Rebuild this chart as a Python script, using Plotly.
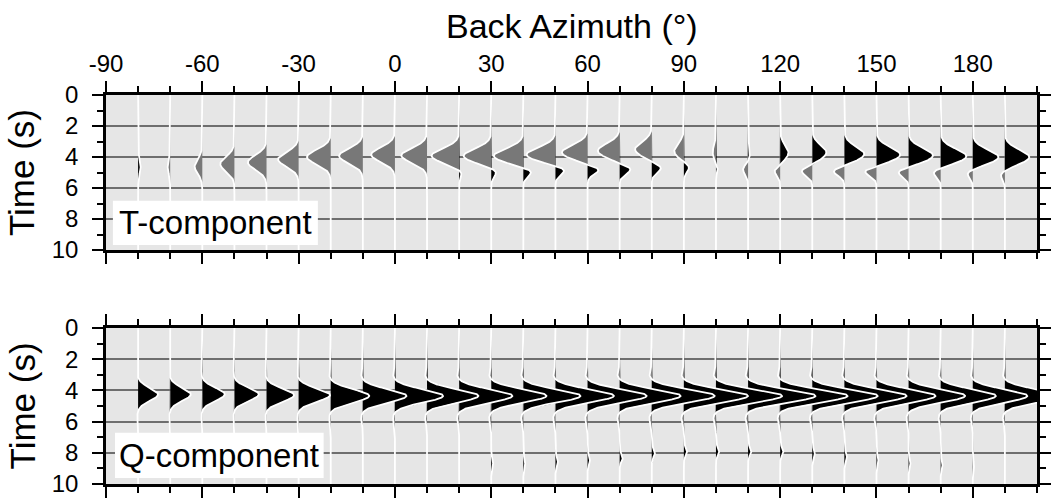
import numpy as np
import plotly.graph_objects as go

# ---------------- data ----------------
baz = [-80, -70, -60, -50, -40, -30, -20, -10, 0, 10, 20, 30, 40, 50,
       60, 70, 80, 90, 100, 110, 120, 130, 140, 150, 160, 170, 180, 190]

# T-component: main arrival (amplitude, time) and later arrival (amplitude, time)
t_amp1 = [0.04, -0.04, -0.12, -0.22, -0.29, -0.32, -0.37, -0.37, -0.37, -0.40,
          -0.43, -0.43, -0.46, -0.45, -0.40, -0.34, -0.26, -0.15, -0.05, 0.03,
          0.13, 0.22, 0.31, 0.37, 0.38, 0.40, 0.40, 0.38]
t_time1 = [4.6, 4.6, 4.6, 4.45, 4.35, 4.15, 4.0, 3.93, 3.85, 3.9,
           3.92, 3.93, 3.93, 3.85, 3.7, 3.6, 3.5, 3.6, 3.7, 3.7,
           3.7, 3.7, 3.8, 3.85, 3.9, 3.95, 4.0, 4.0]
t_amp2 = [0.0, 0.0, 0.0, 0.0, 0.0, 0.0, 0.0, 0.0, 0.0, 0.0,
          0.06, 0.11, 0.16, 0.18, 0.19, 0.18, 0.15, 0.09, 0.03, -0.08,
          -0.09, -0.17, -0.18, -0.20, -0.18, -0.14, -0.11, -0.08]
t_time2 = [5.0, 5.0, 5.0, 5.0, 5.0, 5.0, 5.0, 5.0, 5.0, 5.0,
           4.95, 4.9, 4.9, 4.8, 4.8, 4.78, 4.7, 4.65, 4.7, 4.8,
           4.88, 4.9, 4.9, 4.9, 4.95, 4.95, 5.0, 5.1]

# Q-component: main arrival and small late arrival
q_amp1 = [0.31, 0.32, 0.35, 0.38, 0.43, 0.49, 0.60, 0.68, 0.75, 0.80,
          0.83, 0.86, 0.89, 0.91, 0.92, 0.95, 0.98, 1.00, 1.03, 1.05,
          1.05, 1.02, 0.97, 0.92, 0.88, 0.86, 0.85, 0.85]
q_time1 = [4.25, 4.25, 4.25, 4.25, 4.3, 4.3, 4.35, 4.35, 4.35, 4.35,
           4.35, 4.35, 4.35, 4.35, 4.35, 4.35, 4.35, 4.35, 4.35, 4.35,
           4.35, 4.35, 4.35, 4.35, 4.35, 4.35, 4.35, 4.35]
q_amp2 = [0.0, 0.0, 0.0, 0.0, 0.0, 0.0, 0.0, 0.0, 0.0, 0.0,
          0.0, 0.03, 0.03, 0.04, 0.04, 0.05, 0.05, 0.05, 0.05, 0.05,
          0.05, 0.04, 0.04, 0.03, 0.03, 0.03, 0.02, 0.0]
q_time2 = [8.0, 8.0, 8.0, 8.0, 8.0, 8.0, 8.0, 8.0, 8.0, 8.0,
           8.0, 8.6, 8.6, 8.5, 8.4, 8.3, 8.0, 7.9, 7.9, 7.9,
           7.9, 8.0, 8.2, 8.4, 8.6, 8.7, 8.8, 8.8]

x_tick_vals = [-90, -60, -30, 0, 30, 60, 90, 120, 150, 180]
x_tick_text = ["-90", "-60", "-30", "0", "30", "60", "90", "120", "150", "180"]
y_tick_vals = [0, 2, 4, 6, 8, 10]
y_tick_text = ["0", "2", "4", "6", "8", "10"]

# ---------------- styling ----------------
SCALE = 20.0          # degrees of back azimuth per unit amplitude
FONT = "Liberation Sans, Arial, Helvetica, sans-serif"
BG = "#e6e6e6"
NEG = "#787878"
POS = "#000000"

t = np.linspace(0, 10, 801)


def pulse(t0, sig):
    return np.exp(-0.5 * ((t - t0) / sig) ** 2)


def t_wave(i):
    return t_amp1[i] * pulse(t_time1[i], 0.47) + t_amp2[i] * pulse(t_time2[i], 0.3)


def q_wave(i):
    a, t0 = q_amp1[i], q_time1[i]
    w = a * (pulse(t0, 0.41) - 0.04 * pulse(t0 - 1.3, 0.35) - 0.04 * pulse(t0 + 1.35, 0.4))
    return w + q_amp2[i] * pulse(q_time2[i], 0.25)


fig = go.Figure()


def add_wiggles(wavefun, xa, ya):
    # drawn from right to left so that left traces lie on top
    for i in reversed(range(len(baz))):
        b = baz[i]
        w = wavefun(i) * SCALE
        pos = np.maximum(w, 0)
        neg = np.minimum(w, 0)
        ty = np.concatenate([[0], t, [10]])
        fig.add_trace(go.Scatter(x=np.concatenate([[b], b + pos, [b]]), y=ty,
                                 mode="lines", fill="toself", fillcolor=POS,
                                 line=dict(width=0, color=POS), hoverinfo="skip",
                                 showlegend=False, xaxis=xa, yaxis=ya))
        fig.add_trace(go.Scatter(x=np.concatenate([[b], b + neg, [b]]), y=ty,
                                 mode="lines", fill="toself", fillcolor=NEG,
                                 line=dict(width=0, color=NEG), hoverinfo="skip",
                                 showlegend=False, xaxis=xa, yaxis=ya))
        fig.add_trace(go.Scatter(x=b + w, y=t, mode="lines",
                                 line=dict(width=1.8, color="white"), hoverinfo="skip",
                                 showlegend=False, xaxis=xa, yaxis=ya))


add_wiggles(t_wave, "x", "y")
add_wiggles(q_wave, "x2", "y2")

xcommon = dict(range=[-90, 200], side="top", tickmode="array",
               tickvals=x_tick_vals, ticktext=x_tick_text, ticks="outside",
               ticklen=11, tickwidth=1.5, tickcolor="black",
               minor=dict(dtick=10, tick0=-90, ticks="outside", ticklen=6,
                          tickwidth=1.5, tickcolor="black", showgrid=False),
               showline=True, linewidth=2.5, linecolor="black", mirror="ticks",
               showgrid=False, zeroline=False,
               tickfont=dict(family=FONT, size=24, color="black"))
ycommon = dict(range=[10, 0], tickmode="array", tickvals=y_tick_vals,
               ticktext=y_tick_text,
               ticks="outside", ticklen=11, tickwidth=1.5, tickcolor="black",
               minor=dict(dtick=1, tick0=0, ticks="outside", ticklen=6,
                          tickwidth=1.5, tickcolor="black", showgrid=False),
               showline=True, linewidth=2.5, linecolor="black", mirror="ticks",
               showgrid=True, gridcolor="#6e6e6e", gridwidth=2, zeroline=False,
               ticklabelstandoff=9,
               tickfont=dict(family=FONT, size=24, color="black"))

fig.update_layout(
    width=1055, height=502,
    margin=dict(l=106, r=4, t=95, b=13),
    paper_bgcolor="white", plot_bgcolor=BG,
    xaxis=dict(domain=[0, 1], anchor="y", showticklabels=True, **xcommon),
    yaxis=dict(domain=[0.6015, 1], anchor="x", **ycommon),
    xaxis2=dict(domain=[0, 1], anchor="y2", showticklabels=False, **xcommon),
    yaxis2=dict(domain=[0, 0.401], anchor="x2", **ycommon),
    showlegend=False,
)

shapes = []
for ya, xa in (("y", "x"), ("y2", "x2")):
    for yv in (4, 8):
        shapes.append(dict(type="line", xref=xa, yref=ya, x0=-90, x1=200, y0=yv, y1=yv,
                           line=dict(color="black", width=1), layer="below"))
# label boxes
shapes.append(dict(type="rect", xref="x", yref="y", x0=-87.85, x1=-24.0, y0=6.82, y1=9.68,
                   fillcolor="white", line=dict(width=0), layer="above"))
shapes.append(dict(type="rect", xref="x2", yref="y2", x0=-87.2, x1=-22.2, y0=6.71, y1=9.62,
                   fillcolor="white", line=dict(width=0), layer="above"))
fig.update_layout(shapes=shapes)

ann = [
    dict(text="Back Azimuth (°)", xref="paper", yref="paper", x=0.5, y=1.177,
         xanchor="center", yanchor="middle", showarrow=False,
         font=dict(family=FONT, size=34, color="black")),
    dict(text="Time (s)", xref="paper", yref="paper", x=-0.09, y=0.80,
         xanchor="center", yanchor="middle", textangle=-90, showarrow=False,
         font=dict(family=FONT, size=35, color="black")),
    dict(text="Time (s)", xref="paper", yref="paper", x=-0.09, y=0.2,
         xanchor="center", yanchor="middle", textangle=-90, showarrow=False,
         font=dict(family=FONT, size=35, color="black")),
    dict(text="T-component", xref="x", yref="y", x=-55.9, y=8.25,
         xanchor="center", yanchor="middle", showarrow=False,
         font=dict(family=FONT, size=33, color="black")),
    dict(text="Q-component", xref="x2", yref="y2", x=-54.7, y=8.17,
         xanchor="center", yanchor="middle", showarrow=False,
         font=dict(family=FONT, size=33, color="black")),
]
fig.update_layout(annotations=ann)

fig.write_html("out.html")
